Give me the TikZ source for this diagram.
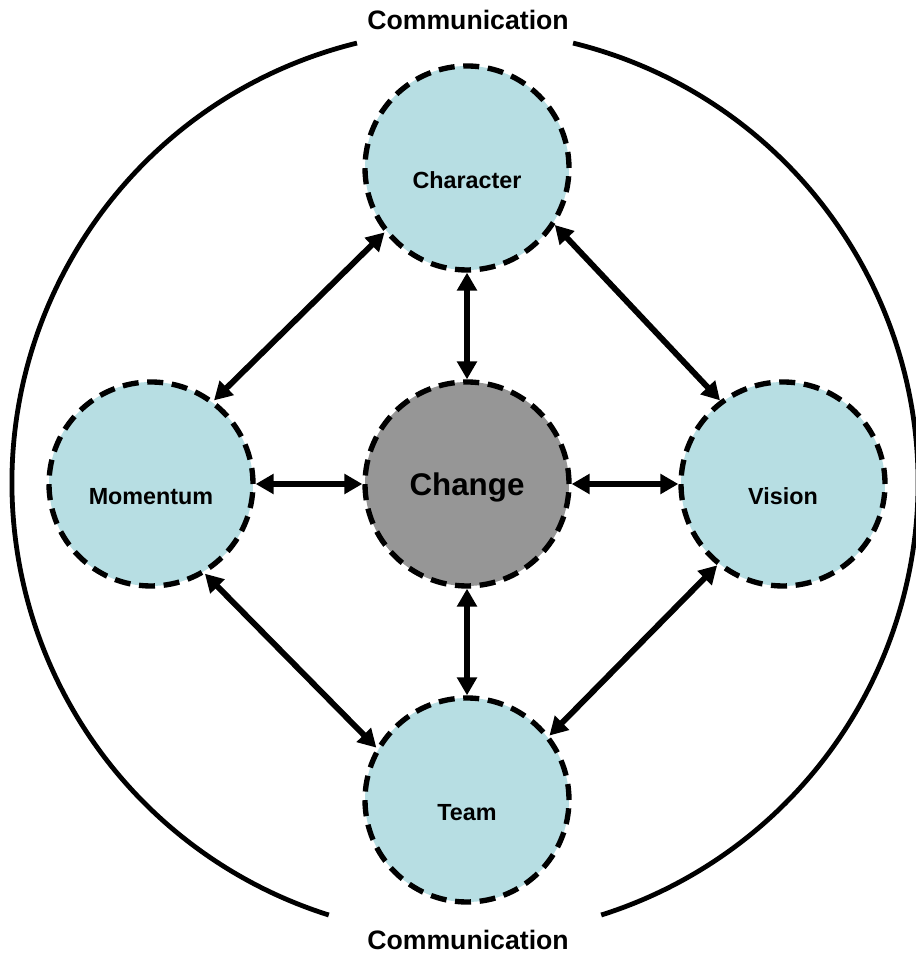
\documentclass[tikz,border=0pt]{standalone}
\usepackage{fontspec}
\setmainfont{Liberation Sans}
\usetikzlibrary{arrows.meta}
\definecolor{bubbleblue}{RGB}{183,222,227}
\definecolor{hubgray}{RGB}{150,150,150}

\begin{document}
\begin{tikzpicture}[
        x=0.75pt, y=0.75pt,
        bubble/.style={circle, draw, fill=bubbleblue, line width=4pt,
            dash pattern=on 12pt off 6.5pt, minimum size=153pt, inner sep=0pt,
            font=\bfseries\fontsize{17.5}{20}\selectfont,
            text height=30.6pt, text depth=0pt},
        hub/.style={bubble, fill=hubgray, font=\bfseries\fontsize{23.5}{27}\selectfont,
            text height=17pt},
        link/.style={{Triangle[length=13.5pt,width=14.5pt]}-{Triangle[length=13.5pt,width=14.5pt]},
            line width=4.4pt},
        caption/.style={font=\bfseries\fontsize{20}{24}\selectfont, inner sep=0pt}
    ]

    \useasboundingbox (0,0) rectangle (915,955);

    % Define positions
    \def\gap{316}   % distance from the hub to each bubble
    \def\rimr{453}  % radius of the outer ring

    % Outer ring, open at top and bottom for the captions
    \coordinate (rim) at (465,472);
    \draw[line width=3.6pt] ([shift={(76.2:\rimr)}]rim) arc[start angle=76.2, end angle=-72.5, radius=\rimr];
    \draw[line width=3.6pt] ([shift={(103.8:\rimr)}]rim) arc[start angle=103.8, end angle=252.5, radius=\rimr];

    \node[caption] (topcap) at (468,935) {Communication};
    \node[caption] (botcap) at (468,15) {Communication};

    % Hub and the four bubbles round it
    \node[hub] (hub) at (467,471) {Change};
    \node[bubble] (char) at (467,471+\gap) {Character};
    \node[bubble] (team) at (467,471-\gap) {Team};
    \node[bubble] (mom) at (467-\gap,471) {Momentum};
    \node[bubble] (vis) at (467+\gap,471) {Vision};

    % Spokes
    \draw[link] (char) -- (hub);
    \draw[link] (team) -- (hub);
    \draw[link] (mom) -- (hub);
    \draw[link] (vis) -- (hub);

    % Ring of links between the bubbles
    \draw[link] (mom.53.6) -- (char.218.3);
    \draw[link] (char.-33.8) -- (vis.127.5);
    \draw[link] (vis.231.9) -- (team.38.8);
    \draw[link] (team.150.6) -- (mom.-59.7);

\end{tikzpicture}
\end{document}
